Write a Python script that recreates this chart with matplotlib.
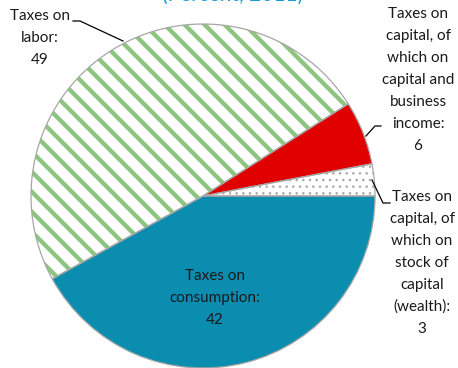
import matplotlib.pyplot as plt

DPI = 120
S = 100 / DPI  # keeps point sizes at their 100-dpi look

plt.rcParams['font.family'] = ['Lato', 'DejaVu Sans']

# tax revenue shares, percent of total
categories = ['Taxes on consumption', 'Taxes on labor',
              'Taxes on capital (income)', 'Taxes on capital (wealth)']
values = [42, 49, 6, 3]
face_colors = ['#0b8db0', 'white', '#e00000', 'white']
hatch_colors = ['#0b8db0', '#8dc580', '#e00000', '#a8a8a8']
hatches = [None, '\\\\', None, '...']
hatch_widths = [2.6, 2.6, 2.6, 0.7]

label_texts = [
    'Taxes on\nconsumption:\n42',
    'Taxes on\nlabor:\n49',
    'Taxes on\ncapital, of\nwhich on\ncapital and\nbusiness\nincome:\n6',
    'Taxes on\ncapital, of\nwhich on\nstock of\ncapital\n(wealth):\n3',
]

W, H = 458, 368
CX, CY, R = 203, 196, 172
fig = plt.figure(figsize=(W / DPI, H / DPI), dpi=DPI)
ax = fig.add_axes([(CX - R) / W, (H - CY - R) / H, 2 * R / W, 2 * R / H])

wedges, _ = ax.pie(values, startangle=0, counterclock=False, radius=1,
                   colors=face_colors, wedgeprops=dict(linewidth=0))
for w, h, hc, hw in zip(wedges, hatches, hatch_colors, hatch_widths):
    w.set_edgecolor(hc)
    w.set_linewidth(0)
    if h:
        w.set_hatch(h)
        if hasattr(w, 'set_hatch_linewidth'):
            w.set_hatch_linewidth(hw)
        else:
            w._hatch_linewidth = hw

# thin grey outlines around every slice
ax.pie(values, startangle=0, counterclock=False, radius=1,
       wedgeprops=dict(fill=False, edgecolor='#a6a6a6', linewidth=0.9 * S))

ax.set_xlim(-1, 1)
ax.set_ylim(-1, 1)
ax.set_aspect('equal')
ax.axis('off')


def px(x, y):
    # pixel position (from top-left) to data coordinates
    return (x - CX) / R, (CY - y) / R


fs = 11 * S
tc = '#1a1a1a'
ls = 1.72
for txt, pos in zip(label_texts, [(215, 298), (40, 38), (418, 80), (422, 263)]):
    ax.text(*px(*pos), txt, ha='center', va='center', fontsize=fs,
            color=tc, linespacing=ls, clip_on=False)

# leader lines
for pts in ([(73, 21), (80, 21), (123, 41)],
            [(366, 136), (375, 126), (381, 126)],
            [(372, 180), (383, 203), (390, 203)]):
    xs, ys = zip(*[px(*p) for p in pts])
    ax.plot(xs, ys, color='black', linewidth=0.9 * S, clip_on=False)

fig.text(233 / W, 1 - 1 / H, '(Percent, 2011)', ha='center', va='baseline',
         fontsize=15 * S, color='#1a9ad6')

fig.savefig('out.png', dpi=DPI)
